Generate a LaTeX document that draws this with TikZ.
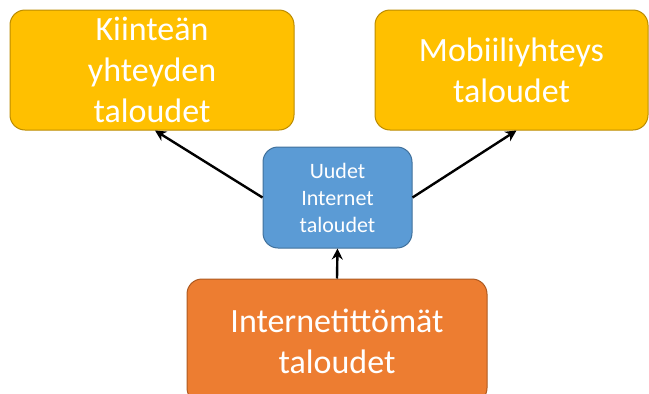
\documentclass[tikz,border=0pt]{standalone}
\usepackage{fontspec}
\setmainfont{Carlito}
\usetikzlibrary{arrows.meta}
\definecolor{goldfill}{HTML}{FFC000}
\definecolor{golddraw}{HTML}{BC8C00}
\definecolor{bluefill}{HTML}{5B9BD5}
\definecolor{bluedraw}{HTML}{41719C}
\definecolor{orangefill}{HTML}{ED7D31}
\definecolor{orangedraw}{HTML}{AE5A21}
\tikzset{
  box/.style={rounded corners=15pt, line width=1pt, text=white, align=center,
    inner sep=0pt, anchor=center},
  bigtext/.style={font=\fontsize{34}{41}\selectfont},
  smalltext/.style={font=\fontsize{22}{27}\selectfont},
  goldbox/.style={box, bigtext, fill=goldfill, draw=golddraw},
  bluebox/.style={box, smalltext, fill=bluefill, draw=bluedraw},
  orangebox/.style={box, bigtext, fill=orangefill, draw=orangedraw},
  link/.style={line width=2.4pt, -{Stealth[length=11pt, width=11pt]}}
}
\begin{document}
\begin{tikzpicture}[x=1pt, y=-1pt]
  \useasboundingbox (0,0) rectangle (649,394);
  \clip (0,0) rectangle (649,394);
  \node[goldbox, minimum width=284pt, minimum height=120pt] (kiint) at (152,70)
    {Kiinteän\\yhteyden\\taloudet};
  \node[goldbox, minimum width=273pt, minimum height=120pt] (mobi) at (511.5,70)
    {Mobiiliyhteys\\taloudet};
  \node[bluebox, minimum width=149pt, minimum height=101pt] (uudet) at (337.5,197.5)
    {Uudet\\Internet\\taloudet};
  \node[orangebox, minimum width=300pt, minimum height=124pt] (ilman) at (337,341)
    {Internetittömät\\taloudet};
  \draw[link] (uudet.west) -- ([xshift=3pt]kiint.south);
  \draw[link] (uudet.east) -- ([xshift=5pt]mobi.south);
  \draw[link] (ilman.north) -- (uudet.south);
\end{tikzpicture}
\end{document}
